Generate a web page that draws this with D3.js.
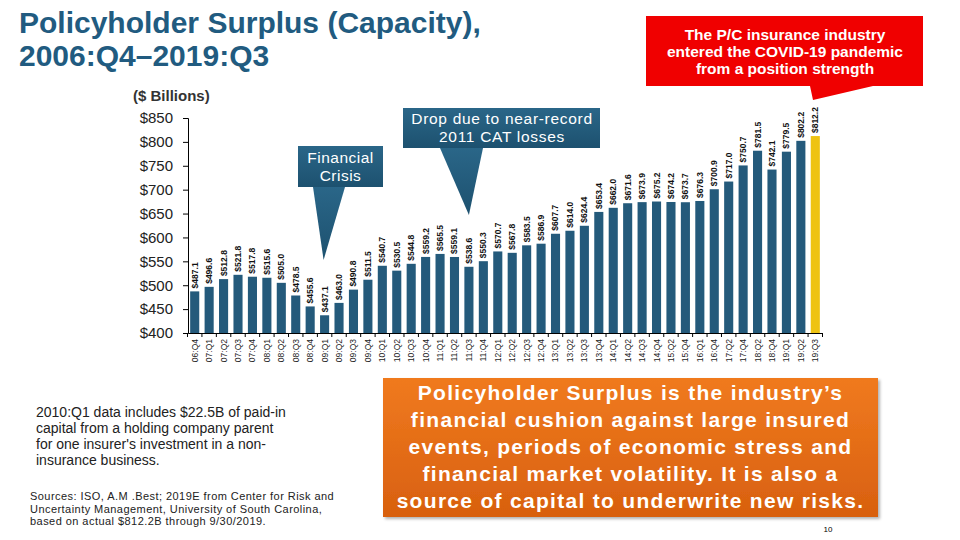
<!DOCTYPE html>
<html>
<head>
<meta charset="utf-8">
<script src="https://cdn.jsdelivr.net/npm/d3@7"></script>
<style>
  html, body { margin: 0; padding: 0; background: #fff; }
  svg { display: block; }
  text { font-family: "Liberation Sans", Arial, sans-serif; }
</style>
</head>
<body>
<svg id="chart" width="960" height="540"></svg>
<script>
// ---- data ----
const categories = ["06:Q4","07:Q1","07:Q2","07:Q3","07:Q4","08:Q1","08:Q2","08:Q3","08:Q4","09:Q1","09:Q2","09:Q3","09:Q4","10:Q1","10:Q2","10:Q3","10:Q4","11:Q1","11:Q2","11:Q3","11:Q4","12:Q1","12:Q2","12:Q3","12:Q4","13:Q1","13:Q2","13:Q3","13:Q4","14:Q1","14:Q2","14:Q3","14:Q4","15:Q2","15:Q4","16:Q1","16:Q4","17:Q2","17:Q4","18:Q2","18:Q4","19:Q1","19:Q2","19:Q3"];
const surplus = [487.1,496.6,512.8,521.8,517.8,515.6,505.0,478.5,455.6,437.1,463.0,490.8,511.5,540.7,530.5,544.8,559.2,565.5,559.1,538.6,550.3,570.7,567.8,583.5,586.9,607.7,614.0,624.4,653.4,662.0,671.6,673.9,675.2,674.2,673.7,676.3,700.9,717.0,750.7,781.5,742.1,779.5,802.2,812.2];
const highlighted = ["19:Q3"];
const yTicks = [400,450,500,550,600,650,700,750,800,850];

const titleLines = ["Policyholder Surplus (Capacity),", "2006:Q4\u20132019:Q3"];
const unitLabel = "($ Billions)";
const covidNote = ["The P/C insurance industry", "entered the COVID-19 pandemic", "from a position strength"];
const crisisNote = ["Financial", "Crisis"];
const catNote = ["Drop due to near-record", "2011 CAT losses"];
const footNote = ["2010:Q1 data includes $22.5B of paid-in", "capital from a holding company parent", "for one insurer's investment in a non-", "insurance business."];
const sourceNote = ["Sources: ISO, A.M .Best; 2019E from Center for Risk and", "Uncertainty Management, University of South Carolina,", "based on actual $812.2B through 9/30/2019."];
const boxNote = ["Policyholder Surplus is the industry\u2019s", "financial cushion against large insured", "events, periods of economic stress and", "financial market volatility.  It is also a", "source of capital to underwrite new risks."];
const pageNumber = "10";

// ---- setup ----
const svg = d3.select("#chart");
const barColor = "#245a7b";
const hiColor = "#eec312";
const titleColor = "#215b80";

const defs = svg.append("defs");
const og = defs.append("linearGradient").attr("id","orangeGrad").attr("x1",0).attr("y1",0).attr("x2",0).attr("y2",1);
og.append("stop").attr("offset","0%").attr("stop-color","#f07a1f");
og.append("stop").attr("offset","100%").attr("stop-color","#d8600f");
const bg = defs.append("linearGradient").attr("id","blueGrad").attr("x1",0).attr("y1",0).attr("x2",0).attr("y2",1);
bg.append("stop").attr("offset","0%").attr("stop-color","#2a6688");
bg.append("stop").attr("offset","100%").attr("stop-color","#1d516f");
const sh = defs.append("filter").attr("id","shadow").attr("x","-5%").attr("y","-5%").attr("width","115%").attr("height","120%");
sh.append("feDropShadow").attr("dx",2).attr("dy",2).attr("stdDeviation",1.5).attr("flood-color","#000").attr("flood-opacity",0.3);

// title
svg.append("text").attr("x",19).attr("y",33)
  .attr("font-size",30).attr("font-weight","bold").attr("fill",titleColor)
  .selectAll("tspan").data(titleLines).join("tspan")
  .attr("x",19).attr("dy",(d,i)=> i===0?0:32.5).text(d=>d);

svg.append("text").attr("x",133).attr("y",101).attr("font-size",15).attr("font-weight","bold")
  .attr("fill","#333").text(unitLabel);

// scales
const x = d3.scaleBand().domain(categories).range([188, 822]).paddingInner(0.37).paddingOuter(0.15);
const y = d3.scaleLinear().domain([400, 850]).range([333, 118]);

// y axis
const yAxis = svg.append("g").attr("transform","translate(188,0)")
  .call(d3.axisLeft(y).tickValues(yTicks).tickSize(5).tickPadding(10).tickFormat(d => "$" + d));
yAxis.select(".domain").attr("stroke","#000").attr("stroke-width",1);
yAxis.selectAll(".tick line").attr("stroke","#000");
yAxis.selectAll(".tick text").attr("font-size",15).attr("fill","#222")
  .attr("font-family","'Liberation Sans', Arial, sans-serif");

// x axis line and boundary ticks
const xAxis = svg.append("g").attr("transform","translate(0,333)")
  .call(d3.axisBottom(x).tickSize(0).tickPadding(0).tickFormat(""));
xAxis.select(".domain").attr("stroke","#000").attr("stroke-width",1);
const bounds = categories.map(c => x(c) - x.step()*x.paddingInner()/2);
bounds.push(x(categories[categories.length-1]) + x.bandwidth() + x.step()*x.paddingInner()/2);
svg.append("g").selectAll("line").data(bounds).join("line")
  .attr("x1",d=>d).attr("x2",d=>d).attr("y1",333).attr("y2",337)
  .attr("stroke","#000").attr("stroke-width",1);

// x labels
svg.append("g").selectAll("text").data(categories).join("text")
  .attr("transform", d => `translate(${x(d) + x.bandwidth()/2},339) rotate(-90)`)
  .attr("text-anchor","end").attr("dy","0.35em")
  .attr("font-size",8.5).attr("fill","#222").text(d => d);

// bars
svg.append("g").selectAll("rect").data(categories).join("rect")
  .attr("x", d => x(d)).attr("width", x.bandwidth())
  .attr("y", (d,i) => y(surplus[i])).attr("height", (d,i) => y(400) - y(surplus[i]))
  .attr("fill", d => highlighted.includes(d) ? hiColor : barColor);

// bar value labels
svg.append("g").selectAll("text").data(categories).join("text")
  .attr("transform", (d,i) => `translate(${x(d) + x.bandwidth()/2},${y(surplus[i]) - 3}) rotate(-90)`)
  .attr("text-anchor","start").attr("dy","0.35em")
  .attr("font-size",8.5).attr("font-weight","bold").attr("fill","#111")
  .attr("font-family","'Liberation Sans Narrow', 'Liberation Sans', Arial, sans-serif")
  .text((d,i) => "$" + surplus[i].toFixed(1));

// ---- callouts ----
// COVID (red)
const cg = svg.append("g");
cg.append("path").attr("d","M646,16 H923 V86 H873 L813,100 L810,86 H646 Z").attr("fill","#f00000");
cg.append("text").attr("text-anchor","middle").attr("font-size",15.5).attr("font-weight","bold").attr("fill","#fff")
  .selectAll("tspan").data(covidNote).join("tspan")
  .attr("x",785).attr("y",(d,i)=>39.5 + i*17.3).text(d=>d);

// Financial Crisis
const fx = x("09:Q1") + x.bandwidth()/2;
const fg = svg.append("g");
fg.append("rect").attr("x",298).attr("y",146).attr("width",85).attr("height",41).attr("fill","url(#blueGrad)");
fg.append("path").attr("d",`M313,187 L345,187 L${fx-1},260 Z`).attr("fill","url(#blueGrad)");
fg.append("text").attr("text-anchor","middle").attr("font-size",15.5).attr("letter-spacing",0.5).attr("fill","#fff")
  .selectAll("tspan").data(crisisNote).join("tspan")
  .attr("x",340.5).attr("y",(d,i)=>163 + i*17.5).text(d=>d);

// CAT losses
const kx = x("11:Q3") + x.bandwidth()/2;
const kg = svg.append("g");
kg.append("rect").attr("x",403).attr("y",108).attr("width",197).attr("height",40).attr("fill","url(#blueGrad)");
kg.append("path").attr("d",`M440,148 L483,148 L${kx},215 Z`).attr("fill","url(#blueGrad)");
kg.append("text").attr("text-anchor","middle").attr("font-size",15.5).attr("letter-spacing",0.7).attr("fill","#fff")
  .selectAll("tspan").data(catNote).join("tspan")
  .attr("x",502).attr("y",(d,i)=>124 + i*17.5).text(d=>d);

// footnotes
svg.append("text").attr("font-size",14).attr("fill","#222")
  .selectAll("tspan").data(footNote).join("tspan")
  .attr("x",36).attr("y",(d,i)=>417 + i*15.9).text(d=>d);
svg.append("text").attr("font-size",11).attr("letter-spacing",0.45).attr("fill","#222")
  .selectAll("tspan").data(sourceNote).join("tspan")
  .attr("x",30).attr("y",(d,i)=>500 + i*12.5).text(d=>d);

// orange box
svg.append("rect").attr("x",383).attr("y",378).attr("width",495).attr("height",139)
  .attr("fill","url(#orangeGrad)").attr("filter","url(#shadow)");
svg.append("text").attr("text-anchor","middle").attr("font-size",21).attr("font-weight","bold").attr("fill","#fff")
  .attr("letter-spacing",1.3)
  .selectAll("tspan").data(boxNote).join("tspan")
  .attr("x",630.5).attr("y",(d,i)=>400 + i*27).text(d=>d);

svg.append("text").attr("x",828).attr("y",532).attr("text-anchor","middle").attr("font-size",8).attr("fill","#000").text(pageNumber);
</script>
</body>
</html>
